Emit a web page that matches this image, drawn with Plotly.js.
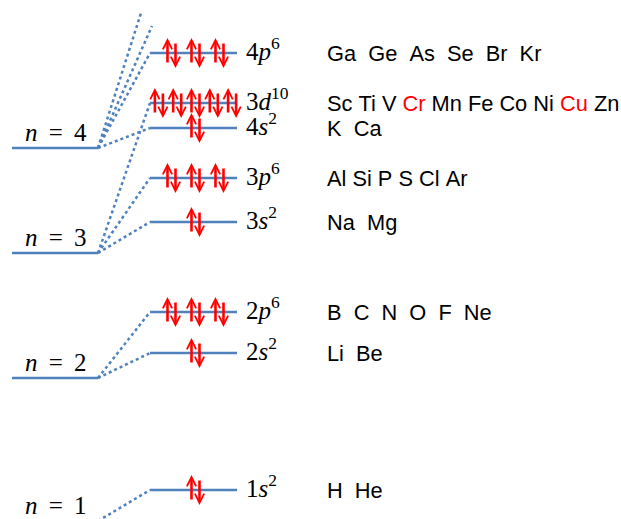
<!DOCTYPE html>
<html><head><meta charset="utf-8">
<script src="https://cdn.plot.ly/plotly-3.0.1.min.js"></script>
<style>html,body{margin:0;padding:0;background:#fff}</style>
</head><body><div id="chart" style="width:621px;height:519px"></div>
<script>
// ---- data ----
const shellN = [1, 2, 3, 4];
const shellEnergy = [-2, 141, 266, 371];
const subshells = ['1s', '2s', '2p', '3s', '3p', '4s', '3d', '4p'];
const subshellShell = [1, 2, 2, 3, 3, 4, 3, 4];
const subshellEnergy = [29, 166, 207, 297, 341, 391, 416, 466];
const subshellElectrons = [2, 2, 6, 2, 6, 2, 10, 6];
const subshellElements = ['H  He', 'Li  Be', 'B  C  N  O  F  Ne', 'Na  Mg', 'Al Si P S Cl Ar', 'K  Ca', 'Sc Ti V Cr Mn Fe Co Ni Cu Zn', 'Ga  Ge  As  Se  Br  Kr'];
const anomalousElements = ['Cr', 'Cu'];
const higherSubshells = ['4d', '4f'];      // only the start of their connectors is visible
const higherEnergy = [506, 493];

// ---- layout constants ----
const W = 621, H = 519;
const SHELL_X = [12, 98], SUB_X = [150, 237];
const STUB_END_X = [141, 152];
const LABEL_X = 245, ELEM_X = 326, PAIR_CX = 195.5;
const BLUE = '#4f81bd', RED = '#ff0000';

const solidX = [], solidY = [], dotX = [], dotY = [];
shellN.forEach((n, i) => { solidX.push(SHELL_X[0], SHELL_X[1], null); solidY.push(shellEnergy[i], shellEnergy[i], null); });
subshells.forEach((s, i) => {
  solidX.push(SUB_X[0], SUB_X[1], null); solidY.push(subshellEnergy[i], subshellEnergy[i], null);
  const pe = shellEnergy[shellN.indexOf(subshellShell[i])];
  dotX.push(SHELL_X[1], SUB_X[0], null); dotY.push(pe, subshellEnergy[i], null);
});
higherSubshells.forEach((s, i) => {
  dotX.push(SHELL_X[1], STUB_END_X[i], null); dotY.push(shellEnergy[3], higherEnergy[i], null);
});

const traces = [
  {x: dotX, y: dotY, mode: 'lines', line: {color: BLUE, width: 2.5, dash: 'dot'}, hoverinfo: 'skip'},
  {x: solidX, y: solidY, mode: 'lines', line: {color: BLUE, width: 2.5}, hoverinfo: 'skip'}
];

const ann = [];
const serif = 'Liberation Serif, DejaVu Serif, serif';
const sp = '\u00A0\u2009';
shellN.forEach((n, i) => {
  const e = Math.max(shellEnergy[i], 0);
  ann.push({x: (SHELL_X[0] + SHELL_X[1]) / 2 + 1, y: e, xref: 'x', yref: 'y', yanchor: 'bottom',
    yshift: shellEnergy[i] < 0 ? -2 : 0,
    text: '<i>n</i>' + sp + '=' + sp + n, showarrow: false, font: {family: serif, size: 25, color: '#000'}});
});
subshells.forEach((s, i) => {
  ann.push({x: LABEL_X, y: subshellEnergy[i], xref: 'x', yref: 'y', xanchor: 'left', yanchor: 'middle', yshift: 4,
    borderpad: 0, text: s[0] + '<i>' + s[1] + '</i><sup>' + subshellElectrons[i] + '</sup>', showarrow: false,
    font: {family: serif, size: 25, color: '#000'}});
  let txt = subshellElements[i].replace(/ /g, '\u00A0');
  anomalousElements.forEach(el => { txt = txt.replace(el, '<span style="color:' + RED + '">' + el + '</span>'); });
  ann.push({x: ELEM_X, y: subshellEnergy[i], xref: 'x', yref: 'y', xanchor: 'left', yanchor: 'middle', yshift: 0,
    borderpad: 0, text: txt, showarrow: false, font: {family: 'Liberation Sans, Arial, sans-serif', size: 21.8, color: '#000'}});
  // electron pairs
  const pairs = subshellElectrons[i] / 2;
  const step = pairs > 3 ? 18.3 : 24;
  for (let p = 0; p < pairs; p++) {
    const cx = PAIR_CX + (p - (pairs - 1) / 2) * step;
    const e = subshellEnergy[i];
    ann.push({x: cx - 4, y: e + 15, ax: cx - 4, ay: e - 11, xref: 'x', yref: 'y', axref: 'x', ayref: 'y',
      text: '', showarrow: true, arrowhead: 5, arrowsize: 0.7, arrowwidth: 2.6, arrowcolor: RED});
    ann.push({x: cx + 4, y: e - 15, ax: cx + 4, ay: e + 11, xref: 'x', yref: 'y', axref: 'x', ayref: 'y',
      text: '', showarrow: true, arrowhead: 5, arrowsize: 0.7, arrowwidth: 2.6, arrowcolor: RED});
  }
});

const layout = {
  width: W, height: H, margin: {l: 0, r: 0, t: 0, b: 0},
  paper_bgcolor: '#fff', plot_bgcolor: '#fff', showlegend: false,
  xaxis: {range: [0, W], visible: false, fixedrange: true},
  yaxis: {range: [0, H], visible: false, fixedrange: true},
  annotations: ann
};
Plotly.newPlot('chart', traces, layout, {staticPlot: true, displayModeBar: false});
</script></body></html>
